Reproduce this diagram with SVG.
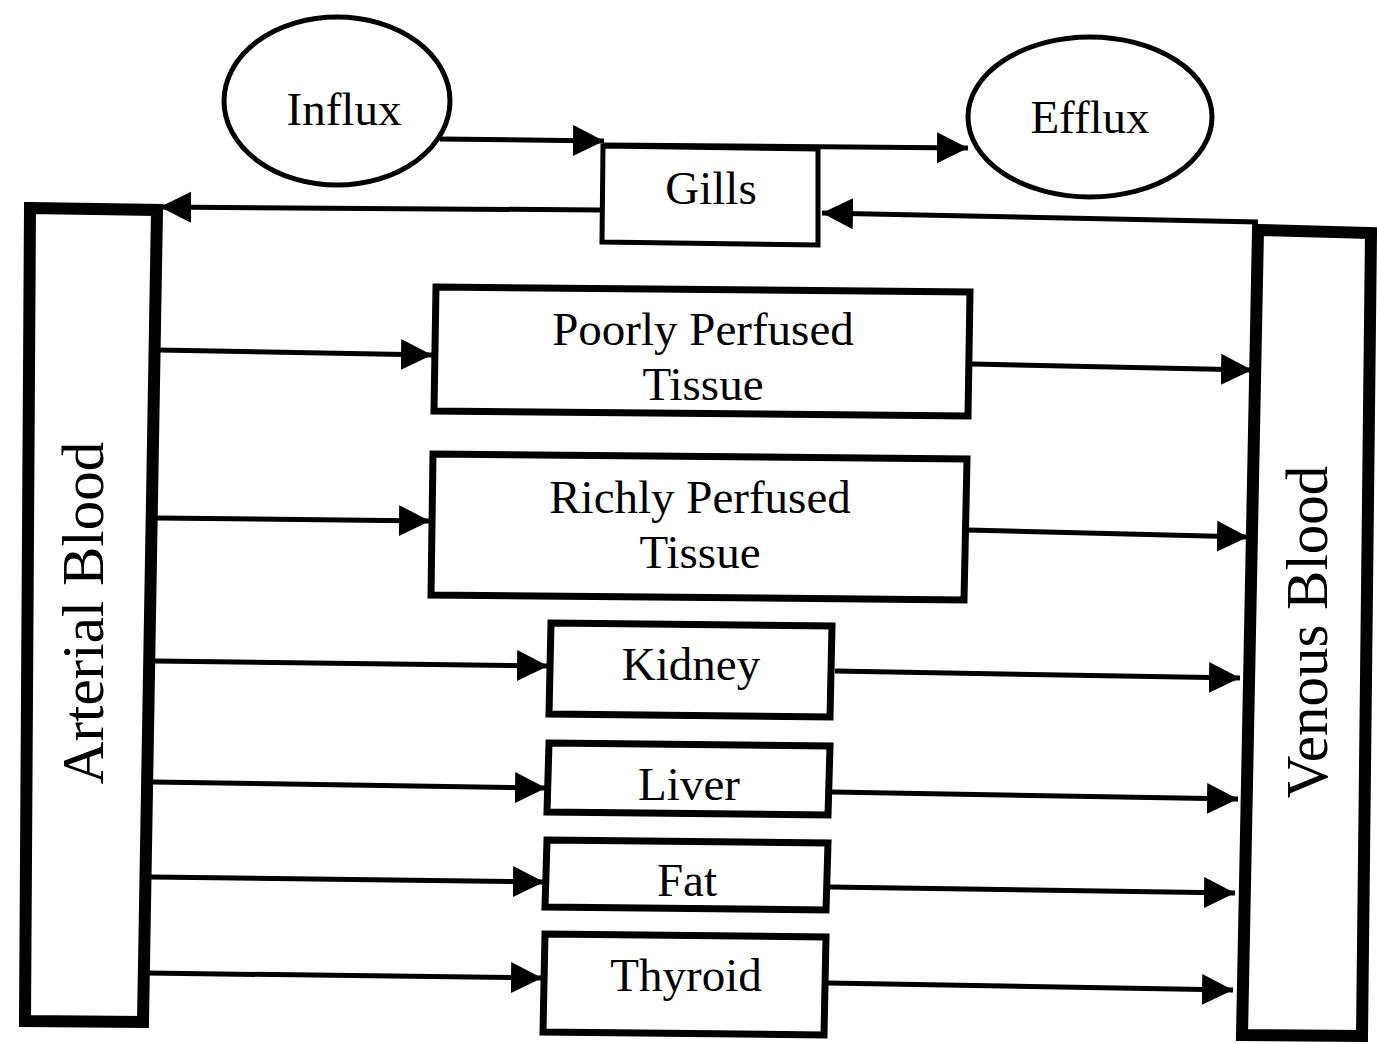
<svg xmlns="http://www.w3.org/2000/svg" width="1377" height="1044" viewBox="0 0 1377 1044">
<style>
text{font-family:"Liberation Serif","Times New Roman",serif;fill:#000;text-anchor:middle;font-size:47px}
.vt{font-size:59px}
.box{fill:#fff;stroke:#000;stroke-width:7;stroke-linejoin:miter}
.thin{stroke-width:5}
.bar{fill:#fff;stroke:#000;stroke-width:12}
.ell{fill:#fff;stroke:#000;stroke-width:5}
.con{fill:none;stroke:#000;stroke-width:5;marker-end:url(#ah)}
</style>
<defs>
<marker id="ah" viewBox="0 0 10 10" refX="10" refY="5" markerUnits="userSpaceOnUse" markerWidth="31" markerHeight="36" orient="auto">
<path d="M0,0 L10,5 L0,10 z" fill="#000"/>
</marker>
</defs>
<rect width="1377" height="1044" fill="#fff"/>
<g id="connectors">
<path class="con" d="M440,139 L604,141"/>
<path class="con" d="M603,145 L968,148"/>
<path class="con" d="M600,210 L160,207"/>
<path class="con" d="M1258,222 L822,213"/>
<path class="con" d="M158,350 L432,355"/>
<path class="con" d="M157,518 L430,521"/>
<path class="con" d="M155,661 L548,666"/>
<path class="con" d="M152,782 L546,788"/>
<path class="con" d="M150,877 L544,882"/>
<path class="con" d="M147,973 L542,978"/>
<path class="con" d="M972,364 L1252,370"/>
<path class="con" d="M968,530 L1248,537"/>
<path class="con" d="M835,671 L1240,678"/>
<path class="con" d="M832,792 L1238,799"/>
<path class="con" d="M830,887 L1235,893"/>
<path class="con" d="M828,983 L1233,990"/>
</g>
<g id="influx">
<ellipse class="ell" cx="337" cy="101" rx="113" ry="84"/>
<text x="344" y="125">Influx</text>
</g>
<g id="efflux">
<ellipse class="ell" cx="1090" cy="117" rx="122" ry="80"/>
<text x="1090" y="133">Efflux</text>
</g>
<g id="gills">
<path class="box thin" d="M603,146 L818,149 L818,245 L602,242 Z"/>
<text x="711" y="204">Gills</text>
</g>
<g id="arterial">
<path class="bar" d="M30,208 L157,210 L143,1022 L25,1021 Z"/>
<text class="vt" transform="translate(103,613) rotate(-90)">Arterial Blood</text>
</g>
<g id="venous">
<path class="bar" d="M1258,230 L1371,233 L1362,1036 L1242,1035 Z"/>
<text class="vt" transform="translate(1327,632) rotate(-90)">Venous Blood</text>
</g>
<g id="poorly">
<path class="box" d="M436,287 L970,292 L968,416 L434,411 Z"/>
<text x="703" y="345">Poorly Perfused</text>
<text x="703" y="400">Tissue</text>
</g>
<g id="richly">
<path class="box" d="M433,454 L967,459 L964,600 L431,595 Z"/>
<text x="700" y="513">Richly Perfused</text>
<text x="700" y="568">Tissue</text>
</g>
<g id="kidney">
<path class="box" d="M551,623 L832,626 L830,717 L549,714 Z"/>
<text x="691" y="680">Kidney</text>
</g>
<g id="liver">
<path class="box" d="M549,743 L830,746 L828,815 L547,812 Z"/>
<text x="689" y="800">Liver</text>
</g>
<g id="fat">
<path class="box" d="M547,840 L828,843 L826,910 L545,907 Z"/>
<text x="687" y="896">Fat</text>
</g>
<g id="thyroid">
<path class="box" d="M545,934 L826,937 L824,1035 L543,1032 Z"/>
<text x="686" y="991">Thyroid</text>
</g>
</svg>
